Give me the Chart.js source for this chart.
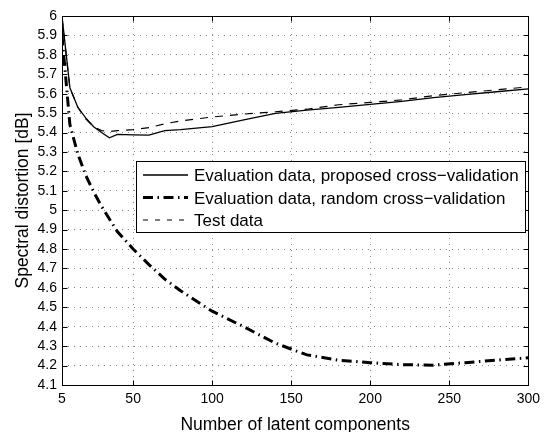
<!DOCTYPE html>
<html lang="en">
<head>
<meta charset="UTF-8">
<title>Spectral distortion vs latent components</title>
<script src="https://cdn.jsdelivr.net/npm/chart.js"></script>
<style>
    html, body { margin: 0; padding: 0; background: #fff; }
    #wrap { width: 546px; height: 432px; }
</style>
</head>
<body>
<div id="wrap"><canvas id="chart" width="546" height="432"></canvas></div>
<script>
// number of latent components (x axis)
const components = [5, 10, 15, 20, 25, 30, 35, 40, 50, 60, 70, 80, 100, 120, 140, 160, 180, 200, 220, 240, 260, 280, 300];
// Evaluation data, proposed cross-validation
const proposedCV = [6.0, 5.63, 5.53, 5.475, 5.43, 5.40, 5.373, 5.39, 5.388, 5.387, 5.41, 5.415, 5.43, 5.465, 5.499, 5.515, 5.53, 5.545, 5.56, 5.58, 5.595, 5.61, 5.625];
// Evaluation data, random cross-validation
const randomCV = [5.9, 5.44, 5.29, 5.18, 5.095, 5.02, 4.955, 4.89, 4.80, 4.72, 4.645, 4.585, 4.48, 4.40, 4.315, 4.255, 4.228, 4.215, 4.205, 4.202, 4.215, 4.228, 4.24];
// Test data
const testData = [5.99, 5.63, 5.53, 5.47, 5.43, 5.41, 5.405, 5.41, 5.415, 5.425, 5.445, 5.46, 5.48, 5.495, 5.507, 5.52, 5.543, 5.555, 5.568, 5.59, 5.605, 5.62, 5.635];

const seriesLabels = [
    'Evaluation data, proposed cross\u2212validation',
    'Evaluation data, random cross\u2212validation',
    'Test data'
];
const xTicks = [5, 50, 100, 150, 200, 250, 300];
const yTicks = [4.1, 4.2, 4.3, 4.4, 4.5, 4.6, 4.7, 4.8, 4.9, 5, 5.1, 5.2, 5.3, 5.4, 5.5, 5.6, 5.7, 5.8, 5.9, 6];
const yTickLabels = ['4.1', '4.2', '4.3', '4.4', '4.5', '4.6', '4.7', '4.8', '4.9', '5', '5.1', '5.2', '5.3', '5.4', '5.5', '5.6', '5.7', '5.8', '5.9', '6'];

const FONT = "'Liberation Sans', Arial, Helvetica, sans-serif";

function points(arr) {
    return components.map((x, i) => ({ x: x, y: arr[i] }));
}

// box, inward ticks and legend drawn like a MATLAB axes
const matlabAxes = {
    id: 'matlabAxes',
    afterDatasetsDraw(chart) {
        const ctx = chart.ctx;
        const a = chart.chartArea;
        const xs = chart.scales.x, ys = chart.scales.y;
        const L = Math.round(a.left) + 0.5, R = Math.round(a.right) + 0.5;
        const T = Math.round(a.top) + 0.5, B = Math.round(a.bottom) + 0.5;
        ctx.save();
        ctx.strokeStyle = '#000';
        ctx.lineWidth = 1;
        ctx.setLineDash([]);
        ctx.strokeRect(L, T, R - L, B - T);
        ctx.beginPath();
        xs.ticks.forEach(t => {
            const px = Math.round(xs.getPixelForValue(t.value)) + 0.5;
            ctx.moveTo(px, B); ctx.lineTo(px, B - 5);
            ctx.moveTo(px, T); ctx.lineTo(px, T + 5);
        });
        ys.ticks.forEach(t => {
            const py = Math.round(ys.getPixelForValue(t.value)) + 0.5;
            ctx.moveTo(L, py); ctx.lineTo(L + 5, py);
            ctx.moveTo(R, py); ctx.lineTo(R - 5, py);
        });
        ctx.stroke();

        // legend
        const lx = 136.5, ly = 161.5, lw = 389, lh = 71;
        ctx.fillStyle = '#fff';
        ctx.fillRect(lx, ly, lw, lh);
        ctx.strokeRect(lx, ly, lw, lh);
        const rows = [175, 197.5, 220];
        chart.data.datasets.forEach((ds, i) => {
            const y = rows[i];
            ctx.save();
            ctx.strokeStyle = ds.borderColor;
            ctx.lineWidth = ds.borderWidth;
            ctx.setLineDash(ds.legendDash || []);
            ctx.lineCap = 'butt';
            ctx.beginPath();
            ctx.moveTo(143, y); ctx.lineTo(188, y);
            ctx.stroke();
            ctx.restore();
            ctx.fillStyle = '#000';
            ctx.font = '17px ' + FONT;
            ctx.textBaseline = 'middle';
            ctx.textAlign = 'left';
            ctx.fillText(ds.label, 194, y + 1.5);
        });
        ctx.restore();
    }
};

const chart = new Chart(document.getElementById('chart').getContext('2d'), {
    type: 'line',
    data: {
        datasets: [{
            label: seriesLabels[0],
            data: points(proposedCV),
            borderColor: '#000',
            borderWidth: 1.3,
            legendDash: []
        }, {
            label: seriesLabels[1],
            data: points(randomCV),
            borderColor: '#000',
            borderWidth: 3,
            borderDash: [10, 4.5, 1.5, 4.5],
            legendDash: [10, 4.5, 1.5, 4.5],
            borderCapStyle: 'butt'
        }, {
            label: seriesLabels[2],
            data: points(testData),
            borderColor: '#000',
            borderWidth: 1.2,
            borderDash: [8, 7],
            legendDash: [5, 7]
        }]
    },
    options: {
        responsive: false,
        animation: false,
        devicePixelRatio: 1,
        layout: { padding: { top: 16, right: 15, left: 0, bottom: 0 } },
        elements: { point: { radius: 0 }, line: { tension: 0 } },
        plugins: {
            legend: { display: false },
            tooltip: { enabled: false }
        },
        scales: {
            x: {
                type: 'linear',
                min: 5,
                max: 300,
                afterBuildTicks: s => { s.ticks = xTicks.map(v => ({ value: v })); },
                afterFit: s => { s.height = 47; },
                ticks: {
                    color: '#000',
                    font: { family: FONT, size: 14 },
                    padding: 6,
                    maxRotation: 0,
                    autoSkip: false
                },
                grid: { color: '#888', lineWidth: 1, drawTicks: false },
                border: { display: false, dash: [1, 5] },
                title: {
                    display: true,
                    text: 'Number of latent components',
                    color: '#000',
                    font: { family: FONT, size: 17.5 },
                    padding: { top: 0, bottom: -4 }
                }
            },
            y: {
                type: 'linear',
                min: 4.1,
                max: 6,
                afterBuildTicks: s => { s.ticks = yTicks.map(v => ({ value: v })); },
                afterFit: s => { s.width = 62; },
                ticks: {
                    color: '#000',
                    font: { family: FONT, size: 14 },
                    padding: 5,
                    autoSkip: false,
                    callback: (v, i) => yTickLabels[i]
                },
                grid: { color: '#888', lineWidth: 1, drawTicks: false },
                border: { display: false, dash: [1, 5] },
                title: {
                    display: true,
                    text: 'Spectral distortion [dB]',
                    color: '#000',
                    font: { family: FONT, size: 17.5 },
                    padding: { top: 13, bottom: 0 }
                }
            }
        }
    },
    plugins: [matlabAxes]
});
</script>
</body>
</html>
